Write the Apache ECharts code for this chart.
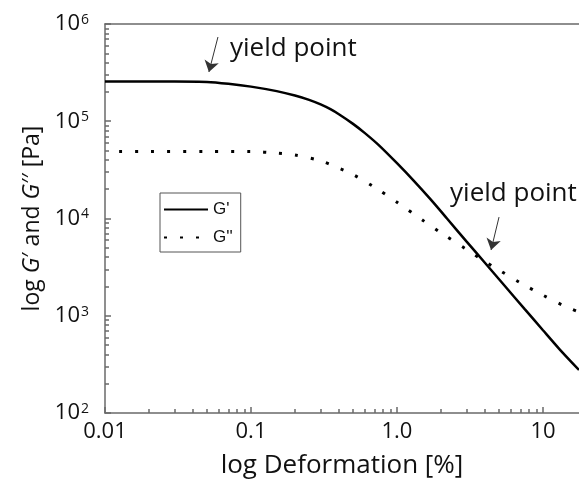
<!DOCTYPE html>
<html><head><meta charset="utf-8">
<script src="https://cdn.jsdelivr.net/npm/echarts@6/dist/echarts.min.js"></script>
<style>html,body{margin:0;padding:0;background:#fff}#c{width:579px;height:487px}</style>
</head><body><div id="c"></div>
<script>
// ---- data ----
const strainG1 = [0.01,0.03,0.05,0.07,0.1,0.15,0.2,0.25,0.3,0.35,0.4,0.5,0.6,0.75,1.0,1.3,1.7,2.2,3,4,5.5,7.5,10,13,17.65];
const gPrime   = [2.56e5,2.56e5,2.54e5,2.43e5,2.27e5,2.04e5,1.84e5,1.66e5,1.49e5,1.33e5,1.18e5,9.4e4,7.59e4,5.68e4,3.70e4,2.45e4,1.57e4,1.0e4,5.78e3,3.51e3,2.01e3,1.17e3,710,452,277];
const strainG2 = [0.0125,0.02,0.05,0.1,0.15,0.2,0.3,0.4,0.5,0.7,1.0,1.5,2,3,4,5,7,10,14,17.65];
const gDoublePrime = [4.9e4,4.9e4,4.9e4,4.88e4,4.7e4,4.5e4,3.91e4,3.3e4,2.83e4,2.10e4,1.47e4,9.6e3,7.14e3,4.80e3,3.61e3,2.95e3,2.18e3,1.63e3,1.26e3,1.09e3];
const seriesNames = ["G'", "G''"];

const xMajor = [0.01,0.1,1,10];
const xTickLabels = ['0.01','0.1','1.0','10'];
const xMinor = [0.02,0.03,0.04,0.05,0.06,0.07,0.08,0.09,0.2,0.3,0.4,0.5,0.6,0.7,0.8,0.9,2,3,4,5,6,7,8,9];
const yMajor = [1e2,1e3,1e4,1e5,1e6];
const yTickExponents = ['2','3','4','5','6'];
const yMinor = [200,300,400,500,600,700,800,900,2e3,3e3,4e3,5e3,6e3,7e3,8e3,9e3,2e4,3e4,4e4,5e4,6e4,7e4,8e4,9e4,2e5,3e5,4e5,5e5,6e5,7e5,8e5,9e5];
const xRange = [0.01, 17.65];
const yRange = [1e2, 1e6];

// annotations: arrow start / tip and text anchor (data coordinates)
const annotationText = 'yield point';
const arrow1 = [[0.0594, 7.35e5],[0.0515, 3.21e5]];
const arrow2 = [[5.0, 1.035e4],[4.41, 4.74e3]];
const text1 = [0.0718, 5.53e5];
const text2 = [2.31, 1.79e4];

const axisColor = '#6a6a6a';
const font = '"Open Sans", sans-serif';
const nearestIdx = (arr, v) => {
  let best = -1, bd = 1e9;
  arr.forEach((t,i)=>{const d=Math.abs(Math.log10(t)-Math.log10(v)); if(d<bd){bd=d;best=i;}});
  return bd < 1e-6 ? best : -1;
};

const chart = echarts.init(document.getElementById('c'), null, {renderer:'canvas'});
const lineAx = {color:axisColor, width:1.5};
chart.setOption({
  animation:false,
  backgroundColor:'#fff',
  grid:{left:105, top:24, right:0, bottom:74},
  legend:{
    left:160, top:193, orient:'vertical', itemWidth:44, itemHeight:14, itemGap:11,
    padding:[8,8,6,3], borderColor:'#555', borderWidth:1,
    itemStyle:{color:'transparent', borderWidth:0, opacity:0},
    textStyle:{fontFamily:'"Liberation Sans", Arial, sans-serif', fontSize:17, color:'#111'},
    data:seriesNames
  },
  xAxis:[
    {type:'log', logBase:10, min:xRange[0], max:xRange[1], position:'bottom',
     axisLine:{show:true, lineStyle:lineAx},
     axisTick:{show:true, inside:true, length:6, customValues:xMajor, lineStyle:lineAx},
     axisLabel:{customValues:xMajor, formatter:(v)=>{const i=nearestIdx(xMajor,v);return i<0?'':xTickLabels[i];},
       fontSize:22, color:'#111', fontFamily:font, margin:8},
     splitLine:{show:false}, minorTick:{show:false},
     name:'log Deformation [%]', nameLocation:'middle', nameGap:40,
     nameTextStyle:{fontSize:26, color:'#111', fontFamily:font}},
    {type:'log', logBase:10, min:xRange[0], max:xRange[1], position:'bottom',
     axisLine:{show:false}, axisTick:{show:true, inside:true, length:4, customValues:xMinor, lineStyle:lineAx},
     axisLabel:{show:false}, splitLine:{show:false}},
    {type:'log', logBase:10, min:xRange[0], max:xRange[1], position:'top',
     axisLine:{show:true, lineStyle:lineAx}, axisTick:{show:false}, axisLabel:{show:false}, splitLine:{show:false}}
  ],
  yAxis:[
    {type:'log', logBase:10, min:yRange[0], max:yRange[1], position:'left',
     axisLine:{show:true, lineStyle:lineAx},
     axisTick:{show:true, inside:true, length:6, customValues:yMajor, lineStyle:lineAx},
     axisLabel:{customValues:yMajor, margin:16,
       formatter:(v)=>{const i=nearestIdx(yMajor,v);return i<0?'':'{b|10}{s|'+yTickExponents[i]+'}';},
       rich:{b:{fontSize:22, color:'#111', fontFamily:font},
             s:{fontSize:14, color:'#111', fontFamily:font, verticalAlign:'top', padding:[0,0,0,1]}}},
     splitLine:{show:false},
     name:'log {i|G}′ and {i|G}′′ [Pa]', nameLocation:'middle', nameGap:60,
     nameTextStyle:{fontSize:23, color:'#111', fontFamily:font,
       rich:{i:{fontSize:23, fontStyle:'italic', color:'#111', fontFamily:font}}}},
    {type:'log', logBase:10, min:yRange[0], max:yRange[1], position:'left',
     axisLine:{show:false}, axisTick:{show:true, inside:true, length:4, customValues:yMinor, lineStyle:lineAx},
     axisLabel:{show:false}, splitLine:{show:false}}
  ],
  series:[
    {name:seriesNames[0], type:'line', xAxisIndex:0, yAxisIndex:0, symbol:'none', smooth:0.25,
     data:strainG1.map((x,i)=>[x,gPrime[i]]),
     lineStyle:{color:'#000', width:2.5}, itemStyle:{color:'#000'},
     markLine:{silent:true, symbol:['none','arrow'], symbolSize:11, label:{show:false},
       lineStyle:{color:'#333', width:1, type:'solid'}, emphasis:{disabled:true},
       data:[[{coord:arrow1[0]},{coord:arrow1[1]}],[{coord:arrow2[0]},{coord:arrow2[1]}]]},
     markPoint:{symbol:'circle', symbolSize:0, silent:true,
       label:{show:true, position:'right', distance:0, formatter:'{b}', fontSize:26, color:'#111', fontFamily:font},
       data:[{name:annotationText, coord:text1},{name:annotationText, coord:text2}]}
    },
    {name:seriesNames[1], type:'line', xAxisIndex:0, yAxisIndex:0, symbol:'none', smooth:0.3,
     data:strainG2.map((x,i)=>[x,gDoublePrime[i]]),
     lineStyle:{color:'#000', width:3, type:[3,13]}, itemStyle:{color:'#000'}}
  ]
});
</script></body></html>
